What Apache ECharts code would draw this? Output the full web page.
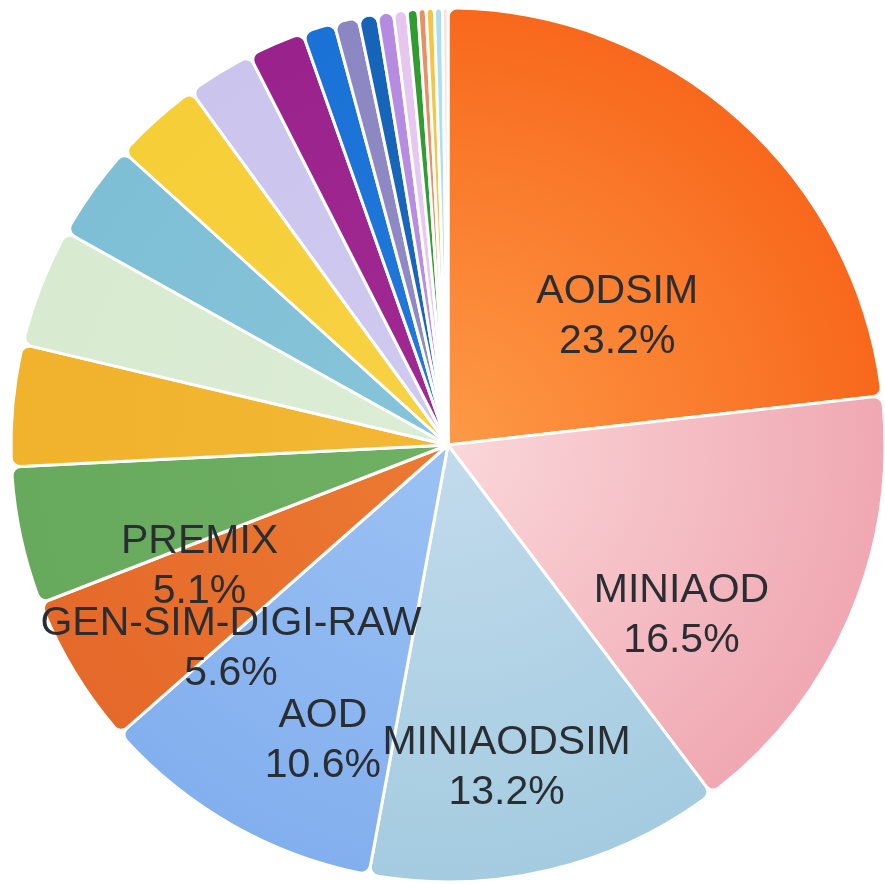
<!DOCTYPE html>
<html>
<head>
<meta charset="utf-8">
<style>
  html, body { margin: 0; padding: 0; background: #ffffff; }
  #chart { width: 885px; height: 884px; }
</style>
<script src="https://cdn.jsdelivr.net/npm/echarts@6/dist/echarts.min.js"></script>
</head>
<body>
<div id="chart"></div>
<script>
// ---- data (percent share per data tier, clockwise from 12 o'clock) ----
const categories = [
  'AODSIM', 'MINIAOD', 'MINIAODSIM', 'AOD', 'GEN-SIM-DIGI-RAW', 'PREMIX',
  'RAW', 'GEN-SIM', 'NANOAODSIM', 'RECO', 'USER', 'NANOAOD', 'GEN-SIM-RECO',
  'ALCARECO', 'GEN-SIM-RAW', 'FEVT', 'RAW-RECO', 'DQMIO', 'GEN', 'LHE',
  'GEN-SIM-DIGI', 'ALCAPROMPT'
];
const shares = [
  23.2, 16.5, 13.2, 10.6, 5.6, 5.1,
  4.5, 4.4, 3.6, 3.3, 2.5, 2.1, 1.2,
  0.9, 0.7, 0.6, 0.5, 0.4, 0.3, 0.3,
  0.3, 0.2
];
// outer (edge) colours and inner (centre) colours of each slice
const outerColors = [
  '#f8681c', '#f0a8b2', '#a4cbe0', '#82afee', '#e5692a', '#68aa5d',
  '#f1b22c', '#d8ead0', '#7fbfd5', '#f6ce37', '#cbc5ee', '#9a228c', '#1b72d6',
  '#8c87c2', '#1564b8', '#b48be0', '#e6c6ef', '#2f9c2f', '#e88f63', '#f5c443',
  '#a8dff0', '#f8e0d6'
];
const innerColors = [
  '#fd9a47', '#fad7da', '#c2dbec', '#9cc2f4', '#ec7a32', '#6fb063',
  '#f3b834', '#dcedd5', '#86c4d9', '#f7d244', '#d0caf0', '#a02a92', '#2278da',
  '#918cc6', '#1a69bd', '#b990e3', '#e9caf1', '#35a135', '#eb9569', '#f6c84b',
  '#ade2f1', '#f9e3da'
];
const labelThreshold = 5; // only slices of at least 5% carry a label

// ---- layout constants ----
const CX = 448, CY = 445, R = 437;
const KX = 1.147, KY = 1.184, LABEL_SHIFT = 67;

const chart = echarts.init(document.getElementById('chart'), null, { renderer: 'canvas' });

const data = categories.map((name, i) => ({
  name: name,
  value: shares[i],
  label: { show: shares[i] >= labelThreshold },
  itemStyle: {
    color: {
      type: 'radial', x: CX, y: CY, r: R, global: true,
      colorStops: [
        { offset: 0, color: innerColors[i] },
        { offset: 1, color: outerColors[i] }
      ]
    }
  }
}));

chart.setOption({
  backgroundColor: '#ffffff',
  animation: false,
  series: [{
    type: 'pie',
    center: [CX, CY],
    radius: [0, R],
    startAngle: 90,
    clockwise: true,
    percentPrecision: 1,
    avoidLabelOverlap: false,
    itemStyle: {
      borderColor: '#ffffff',
      borderWidth: 3,
      borderRadius: 9
    },
    label: {
      position: 'inner',
      formatter: '{b}\n{d}%',
      fontFamily: 'Liberation Sans',
      fontSize: 41,
      lineHeight: 50,
      color: '#2a2e33',
      align: 'center'
    },
    labelLine: { show: false },
    labelLayout: function (p) {
      const r = p.labelRect;
      const lx = r.x + r.width / 2;
      const ly = r.y + r.height / 2;
      return {
        dx: (lx - CX) * (KX - 1),
        dy: (ly - CY) * (KY - 1) + LABEL_SHIFT
      };
    },
    emphasis: { disabled: true },
    data: data
  }]
});
</script>
</body>
</html>
